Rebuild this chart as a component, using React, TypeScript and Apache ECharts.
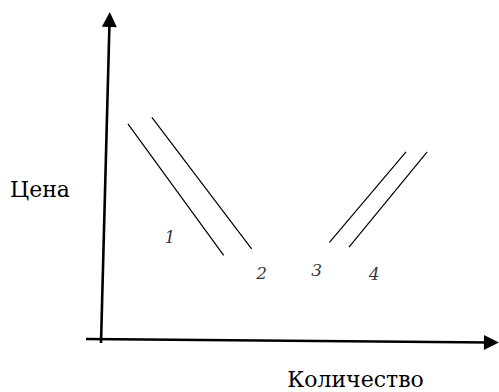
import React, { useEffect, useRef } from "react";
import * as echarts from "echarts";

// Supply / demand lines (quantity, price) in arbitrary units
const line1: number[][] = [[7, 66], [31, 26]];
const line2: number[][] = [[13, 68], [38, 28]];
const line3: number[][] = [[57.5, 30], [76.7, 57.5]];
const line4: number[][] = [[62.4, 28.5], [82, 57.5]];

// Curve numbers and where they sit
const labelNames = ["1", "2", "3", "4"];
const labelPoints: number[][] = [[17.5, 31.5], [40.5, 20.8], [54.3, 21.6], [68.7, 20.4]];

// Hand-drawn axes (start, arrow end)
const priceAxis: number[][] = [[0.25, -0.6], [2.4, 97.7]];
const quantityAxis: number[][] = [[-3.5, 0.6], [98.1, -0.46]];

const yAxisName = "Цена";
const xAxisName = "Количество";

const SERIF = "DejaVu Serif";

export default function App() {
  const ref = useRef<HTMLDivElement>(null);
  useEffect(() => {
    if (!ref.current) return;
    const chart = echarts.init(ref.current, undefined, { renderer: "svg" });
    const mkLine = (name: string, data: number[][]) => ({
      type: "line",
      name,
      data,
      showSymbol: false,
      symbol: "none",
      clip: false,
      silent: true,
      lineStyle: { color: "#000", width: 1.2 },
    });
    chart.setOption({
      animation: false,
      textStyle: { fontFamily: SERIF },
      grid: { left: 80.05, top: 12, width: 418.95, height: 345.45 },
      xAxis: { type: "value", min: -5, max: 100, show: false },
      yAxis: { type: "value", min: -5, max: 100, show: false },
      series: [
        mkLine("1", line1),
        mkLine("2", line2),
        mkLine("3", line3),
        mkLine("4", line4),
        {
          type: "scatter",
          symbolSize: 1,
          silent: true,
          itemStyle: { color: "rgba(0,0,0,0)" },
          data: labelPoints.map((p, i) => ({ value: p, name: labelNames[i] })),
          label: {
            show: true,
            position: "inside",
            formatter: "{b}",
            color: "#000",
            fontFamily: SERIF,
            fontStyle: "italic",
            fontSize: 17,
          },
          markLine: {
            silent: true,
            symbol: ["none", "triangle"],
            symbolSize: 15,
            label: { show: false },
            lineStyle: { color: "#000", width: 2.6, type: "solid" },
            emphasis: { disabled: true },
            data: [
              [{ coord: priceAxis[0] }, { coord: priceAxis[1] }],
              [{ coord: quantityAxis[0] }, { coord: quantityAxis[1] }],
            ],
          },
        },
      ],
      graphic: [
        {
          type: "text",
          x: 10,
          y: 189.5,
          style: {
            text: yAxisName,
            fontFamily: SERIF,
            fontSize: 22,
            fill: "#000",
            verticalAlign: "middle",
            align: "left",
          },
        },
        {
          type: "text",
          x: 355.5,
          y: 379.5,
          style: {
            text: xAxisName,
            fontFamily: SERIF,
            fontSize: 22,
            fill: "#000",
            verticalAlign: "middle",
            align: "center",
          },
        },
      ],
    });
    return () => chart.dispose();
  }, []);
  return (
    <div
      ref={ref}
      style={{ position: "absolute", left: 0, top: 0, width: 499, height: 392, background: "#fff" }}
    />
  );
}
